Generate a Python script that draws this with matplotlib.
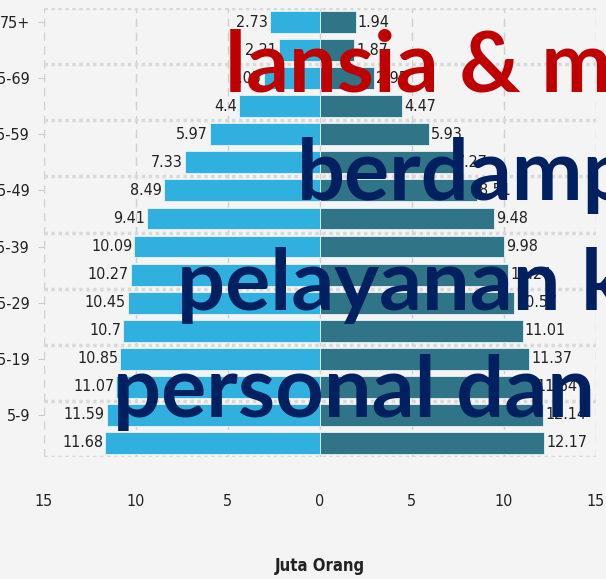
import numpy as np
import matplotlib
matplotlib.use('Agg')
import matplotlib.pyplot as plt

# data (kelompok umur dari bawah ke atas)
ages = ['0-4', '5-9', '10-14', '15-19', '20-24', '25-29', '30-34', '35-39',
        '40-44', '45-49', '50-54', '55-59', '60-64', '65-69', '70-74', '75+']
left_vals = [11.68, 11.59, 11.07, 10.85, 10.7, 10.45, 10.27, 10.09,
             9.41, 8.49, 7.33, 5.97, 4.4, 3.05, 2.21, 2.73]
right_vals = [12.17, 12.14, 11.64, 11.37, 11.01, 10.57, 10.24, 9.98,
              9.48, 8.51, 7.27, 5.93, 4.47, 2.95, 1.87, 1.94]
xticks = [-15, -10, -5, 0, 5, 10, 15]
xlabel = 'Juta Orang'

# teks besar di atas grafik
overlay = [
    ('lansia & m', '#c00000', 225, 92),
    ('berdamp', '#002060', 297, 200),
    ('pelayanan k', '#002060', 177, 310),
    ('personal dan', '#002060', 113, 417),
]

W, H = 606, 579
bg = '#f4f4f4'

fig = plt.figure(figsize=(W / 100, H / 100), dpi=100, facecolor=bg)
ax = fig.add_axes([44 / W, 1 - 457 / H, (596 - 44) / W, (457 - 8) / H])
ax.set_facecolor(bg)

y = np.arange(len(ages))
left_bars = ax.barh(y, -np.array(left_vals), height=0.78, color='#30b0de',
                    edgecolor='#e9f1f5', linewidth=0.6)
right_bars = ax.barh(y, right_vals, height=0.78, color='#2f7487',
                     edgecolor='#e9f1f5', linewidth=0.6)

# label angka di ujung batang
lab_font = dict(fontsize=11.5, fontstretch='condensed', family='DejaVu Sans',
                color='#222222')
ax.bar_label(left_bars, labels=[f'{v:g}' for v in left_vals], padding=1.5,
             **lab_font)
ax.bar_label(right_bars, labels=[f'{v:g}' for v in right_vals], padding=1.5,
             **lab_font)

ax.set_xlim(-15, 15)
ax.set_ylim(-0.5, 15.5)
ax.set_xticks(xticks)
ax.set_xticklabels([str(abs(t)) for t in xticks], fontsize=11.5,
                   fontstretch='condensed')
ax.set_yticks(y[1::2])
ax.set_yticklabels(ages[1::2], fontsize=11.5, fontstretch='condensed')
ax.set_yticks(np.arange(-0.5, 16, 2), minor=True)
ax.tick_params(axis='x', length=0, pad=27, colors='#222222')
ax.tick_params(axis='y', which='major', length=4, color='#cccccc', pad=6,
               colors='#222222')
ax.tick_params(axis='y', which='minor', length=0)
ax.set_xlabel(xlabel, fontsize=12, fontweight='bold', fontstretch='condensed',
              labelpad=34, color='#222222')

ax.set_axisbelow(True)
ax.grid(axis='x', which='major', color='#cfcfcf', lw=1, ls=(0, (6, 4)))
ax.grid(axis='y', which='minor', color='#d9d9d9', lw=2.5, ls=(0, (1, 1)))
ax.grid(axis='y', which='major', visible=False)
for s in ax.spines.values():
    s.set_visible(False)

for txt, col, px, py in overlay:
    fig.text(px / W, 1 - py / H, txt, color=col, fontsize=61,
             fontweight='bold', family=['Lato', 'DejaVu Sans'],
             ha='left', va='baseline')

fig.savefig('out.png', dpi=100, facecolor=bg)
